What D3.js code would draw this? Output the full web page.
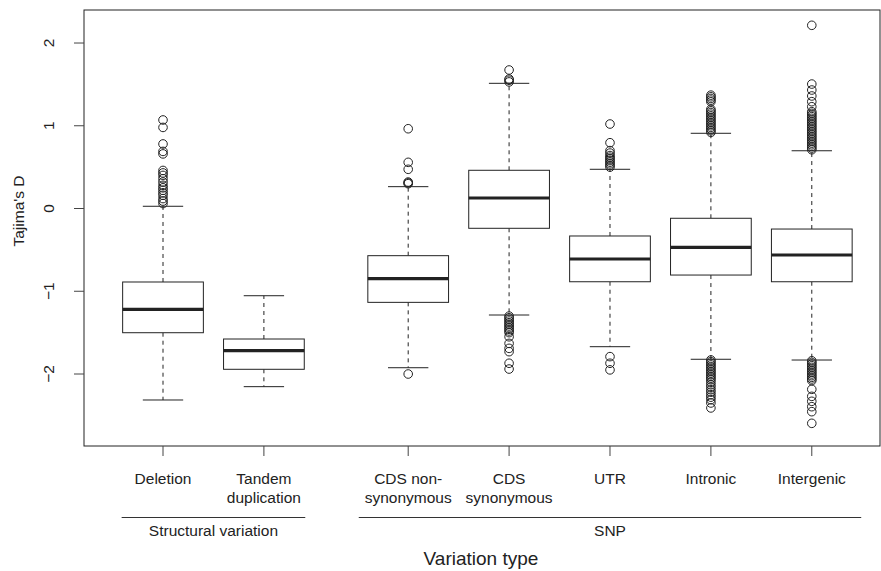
<!DOCTYPE html>
<html><head><meta charset="utf-8">
<script src="https://cdn.jsdelivr.net/npm/d3@7/dist/d3.min.js"></script>
<style>
body{margin:0;background:#fff}
text{font-family:"Liberation Sans",Arial,Helvetica,sans-serif;fill:#222}
</style>
</head><body>
<svg id="chart" width="881" height="571"></svg>
<script>
// ---- data ----
const categories = ["Deletion","Tandem duplication","CDS non-synonymous","CDS synonymous","UTR","Intronic","Intergenic"];
const tickLabelLines = [["Deletion"],["Tandem","duplication"],["CDS non-","synonymous"],["CDS","synonymous"],["UTR"],["Intronic"],["Intergenic"]];
const positions = [1, 2, 3.43, 4.43, 5.43, 6.43, 7.43];
const whiskerLow  = [-2.314, -2.153, -1.924, -1.287, -1.670, -1.822, -1.831];
const q1          = [-1.501, -1.943, -1.134, -0.239, -0.885, -0.804, -0.885];
const medians     = [-1.218, -1.718, -0.848,  0.127, -0.610, -0.469, -0.562];
const q3          = [-0.888, -1.577, -0.570,  0.462, -0.332, -0.118, -0.248];
const whiskerHigh = [ 0.027, -1.054,  0.264,  1.513,  0.474,  0.909,  0.698];
const outliersDeletion = [1.07, 0.98, 0.78, 0.69, 0.66, 0.46, 0.43, 0.40, 0.36, 0.32, 0.28, 0.25, 0.22, 0.19, 0.16, 0.12, 0.09, 0.06];
const outliersTandem = [];
const outliersCdsNonSyn = [0.964, 0.558, 0.474, 0.32, 0.31, 0.30, -2.00];
const outliersCdsSyn = [1.674, 1.565, 1.55, 1.53,
  -1.30, -1.32, -1.34, -1.36, -1.38, -1.40, -1.42, -1.44, -1.46, -1.48, -1.50, -1.55, -1.63, -1.69, -1.73, -1.87, -1.94];
const outliersUtr = [1.021, 0.795, 0.70, 0.67, 0.64, 0.62, 0.60, 0.58, 0.56, 0.54, 0.52, 0.50, -1.79, -1.87, -1.95];
const outliersIntronic = [1.37, 1.35, 1.33, 1.31, 1.29, 1.20, 1.18, 1.16, 1.14, 1.12, 1.10, 1.08, 1.06, 1.04, 1.02, 1.00, 0.98, 0.96, 0.94, 0.92,
  -1.83, -1.85, -1.87, -1.89, -1.91, -1.93, -1.95, -1.97, -1.99, -2.01, -2.03, -2.05, -2.07,
  -2.10, -2.13, -2.16, -2.19, -2.22, -2.25, -2.28, -2.31, -2.35, -2.41];
const outliersIntergenic = [2.214, 1.504, 1.432, 1.36, 1.291, 1.23, 1.17,
  1.15, 1.13, 1.11, 1.09, 1.07, 1.05, 1.03, 1.01, 0.99, 0.97, 0.95, 0.93, 0.91, 0.89, 0.87, 0.85, 0.83, 0.81, 0.79, 0.77, 0.75, 0.73, 0.71,
  -1.84, -1.86, -1.88, -1.90, -1.92, -1.94, -1.96, -1.98, -2.00, -2.02, -2.04, -2.06, -2.08,
  -2.185, -2.27, -2.33, -2.395, -2.455, -2.596];
const outliers = [outliersDeletion, outliersTandem, outliersCdsNonSyn, outliersCdsSyn, outliersUtr, outliersIntronic, outliersIntergenic];
const groupNames = ["Structural variation", "SNP"];
const groupFirst = [0, 2];
const groupLast  = [1, 6];
const yTicks = [-2, -1, 0, 1, 2];
const yTitle = "Tajima's D";
const xTitle = "Variation type";

// ---- layout ----
const plot = {left: 84, right: 880, top: 10, bottom: 446};
const groupPad = [0.41, 0.49];
const fontSize = 15.5;

const svg = d3.select("#chart");
const x = d3.scaleLinear().domain([0.217, 8.106]).range([plot.left, plot.right]);
const y = d3.scaleLinear().domain([-2.870, 2.399]).range([plot.bottom, plot.top]);
const boxHalf = 0.40, capHalf = 0.20;

const data = categories.map((c, i) => ({
  name: c, pos: positions[i], lo: whiskerLow[i], q1: q1[i], med: medians[i], q3: q3[i], hi: whiskerHigh[i], out: outliers[i]
}));

const g = svg.append("g");
const box = g.selectAll("g.box").data(data).join("g").attr("class", "box");

// whiskers (dashed)
box.append("line").attr("x1", d => x(d.pos)).attr("x2", d => x(d.pos))
  .attr("y1", d => y(d.q3)).attr("y2", d => y(d.hi))
  .attr("stroke", "#222").attr("stroke-width", 1).attr("stroke-dasharray", "4,4");
box.append("line").attr("x1", d => x(d.pos)).attr("x2", d => x(d.pos))
  .attr("y1", d => y(d.q1)).attr("y2", d => y(d.lo))
  .attr("stroke", "#222").attr("stroke-width", 1).attr("stroke-dasharray", "4,4");
// caps
["hi", "lo"].forEach(k => {
  box.append("line").attr("x1", d => x(d.pos - capHalf)).attr("x2", d => x(d.pos + capHalf))
    .attr("y1", d => y(d[k])).attr("y2", d => y(d[k]))
    .attr("stroke", "#222").attr("stroke-width", 1);
});
// box
box.append("rect").attr("x", d => x(d.pos - boxHalf)).attr("width", d => x(d.pos + boxHalf) - x(d.pos - boxHalf))
  .attr("y", d => y(d.q3)).attr("height", d => y(d.q1) - y(d.q3))
  .attr("fill", "#fff").attr("stroke", "#222").attr("stroke-width", 1);
// median
box.append("line").attr("x1", d => x(d.pos - boxHalf)).attr("x2", d => x(d.pos + boxHalf))
  .attr("y1", d => y(d.med)).attr("y2", d => y(d.med))
  .attr("stroke", "#222").attr("stroke-width", 3.2);
// outliers
box.each(function(d) {
  d3.select(this).selectAll("circle").data(d.out).join("circle")
    .attr("cx", x(d.pos)).attr("cy", v => y(v)).attr("r", 4.3)
    .attr("fill", "none").attr("stroke", "#222").attr("stroke-width", 1);
});

// frame
svg.append("rect").attr("x", plot.left).attr("y", plot.top)
  .attr("width", plot.right - plot.left).attr("height", plot.bottom - plot.top)
  .attr("fill", "none").attr("stroke", "#222").attr("stroke-width", 1);

// y axis
const yAx = svg.append("g");
yAx.selectAll("line").data(yTicks).join("line")
  .attr("x1", plot.left - 10).attr("x2", plot.left).attr("y1", d => y(d)).attr("y2", d => y(d))
  .attr("stroke", "#444");
yAx.selectAll("text").data(yTicks).join("text")
  .attr("transform", d => `translate(54,${y(d)}) rotate(-90)`)
  .attr("text-anchor", "middle").attr("font-size", fontSize)
  .text(d => d < 0 ? "\u2212" + Math.abs(d) : String(d));
svg.append("text").attr("transform", `translate(24,211) rotate(-90)`)
  .attr("text-anchor", "middle").attr("font-size", fontSize).text(yTitle);

// x axis
const xAx = svg.append("g");
xAx.selectAll("line").data(data).join("line")
  .attr("x1", d => x(d.pos)).attr("x2", d => x(d.pos)).attr("y1", plot.bottom).attr("y2", plot.bottom + 10)
  .attr("stroke", "#444");
data.forEach((d, i) => {
  tickLabelLines[i].forEach((ln, j) => {
    xAx.append("text").attr("x", x(d.pos)).attr("y", 484 + j * 19.2)
      .attr("text-anchor", "middle").attr("font-size", fontSize).text(ln);
  });
});
// group lines
groupNames.forEach((gn, i) => {
  const a = positions[groupFirst[i]] - groupPad[i], b = positions[groupLast[i]] + groupPad[i];
  svg.append("line").attr("x1", x(a)).attr("x2", x(b)).attr("y1", 517.5).attr("y2", 517.5)
    .attr("stroke", "#333").attr("stroke-width", 1);
  svg.append("text").attr("x", x((positions[groupFirst[i]] + positions[groupLast[i]]) / 2)).attr("y", 536)
    .attr("text-anchor", "middle").attr("font-size", fontSize).text(gn);
});
svg.append("text").attr("x", (plot.left + plot.right) / 2 - 1).attr("y", 565)
  .attr("text-anchor", "middle").attr("font-size", 19).text(xTitle);
</script>
</body></html>
